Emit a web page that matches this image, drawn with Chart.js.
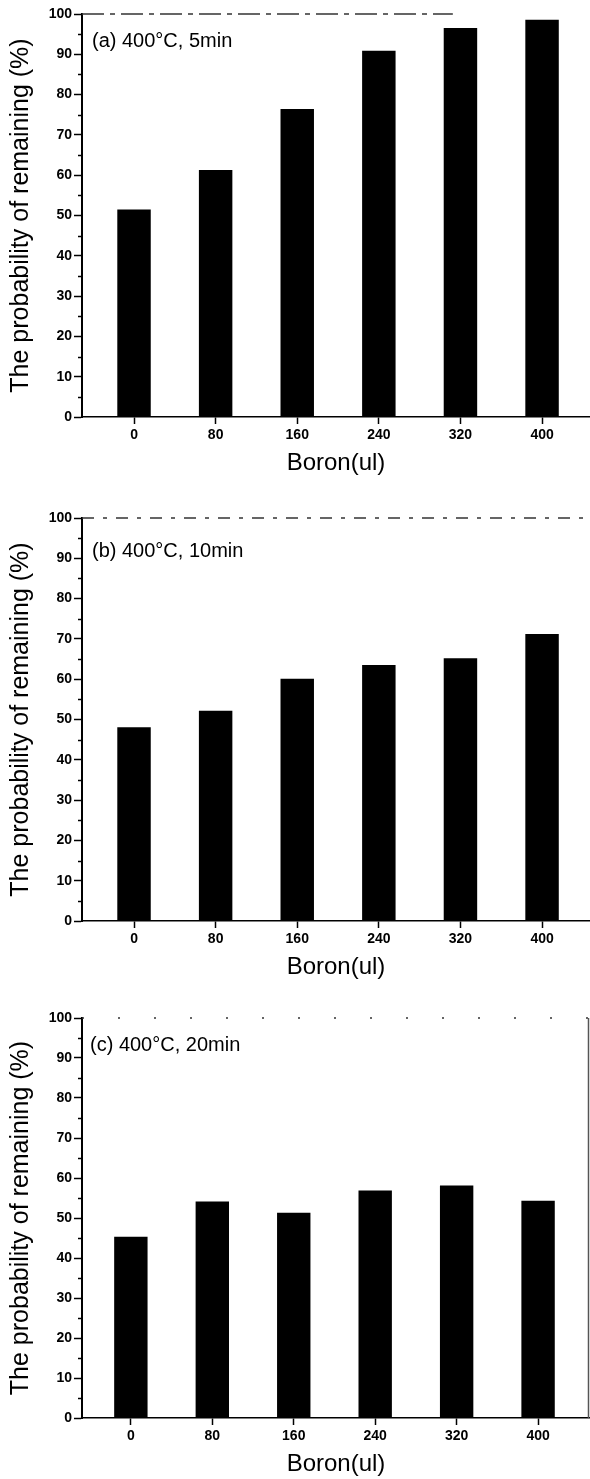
<!DOCTYPE html>
<html><head><meta charset="utf-8">
<script src="https://cdn.jsdelivr.net/npm/chart.js@4.4.1/dist/chart.umd.min.js"></script>
<style>
html,body{margin:0;padding:0;background:#fff;}
body{width:590px;height:1479px;position:relative;overflow:hidden;}
canvas{position:absolute;left:0;display:block;}
</style></head><body>
<canvas id="ca" width="590" height="500" style="top:0px"></canvas>
<canvas id="cb" width="590" height="500" style="top:504px"></canvas>
<canvas id="cc" width="590" height="475" style="top:1004px"></canvas>
<script>
// ---- data ----
const boron = [0, 80, 160, 240, 320, 400];
const xTickLabels = ['0', '80', '160', '240', '320', '400'];
const yTickValues = [0, 10, 20, 30, 40, 50, 60, 70, 80, 90, 100];
const yMinorTicks = [5, 15, 25, 35, 45, 55, 65, 75, 85, 95];
const remaining5min = [51.5, 61.3, 76.4, 90.9, 96.5, 98.6];
const remaining10min = [48.1, 52.2, 60.1, 63.5, 65.2, 71.2];
const remaining20min = [45.3, 54.1, 51.3, 56.9, 58.1, 54.3];
const panelTitles = ['(a) 400\u00B0C, 5min', '(b) 400\u00B0C, 10min', '(c) 400\u00B0C, 20min'];
const xAxisTitle = 'Boron(ul)';
const yAxisTitle = 'The probability of remaining (%)';

Chart.defaults.font.family = '"Liberation Sans", Arial, Helvetica, sans-serif';
Chart.defaults.color = '#000';

const deco = {
  id: 'deco',
  afterDraw(chart, args, o) {
    const {ctx, chartArea: a, scales: {y}} = chart;
    ctx.save();
    ctx.strokeStyle = '#000';
    ctx.lineWidth = 1.5;
    yMinorTicks.forEach(v => {
      const py = Math.round(y.getPixelForValue(v)) + 0.5;
      ctx.beginPath(); ctx.moveTo(a.left - 4, py); ctx.lineTo(a.left, py); ctx.stroke();
    });
    const ty = y.getPixelForValue(100);
    ctx.setLineDash(o.dash);
    ctx.lineWidth = 1.3;
    ctx.strokeStyle = '#333';
    ctx.beginPath(); ctx.moveTo(a.left, ty); ctx.lineTo(a.left + (a.right - a.left) * o.topFrac, ty); ctx.stroke();
    ctx.setLineDash([]);
    if (o.rightBorder) {
      ctx.strokeStyle = '#555';
      ctx.lineWidth = 1.5;
      ctx.beginPath(); ctx.moveTo(a.right - 1.5, a.top); ctx.lineTo(a.right - 1.5, a.bottom); ctx.stroke();
    }
    ctx.font = '20px "Liberation Sans", Arial, sans-serif';
    ctx.fillStyle = '#000';
    ctx.textBaseline = 'middle';
    ctx.textAlign = 'left';
    ctx.fillText(o.title, a.left + o.titleDx, ty + o.titleDy);
    ctx.restore();
  }
};

function makePanel(id, values, title, plotH, canvasH, xH, xmin, xmax, dash, topFrac, rightBorder, titleDx, titleDy) {
  const padTop = 14;
  const padBottom = Math.max(0, canvasH - padTop - plotH - xH);
  new Chart(document.getElementById(id), {
    type: 'bar',
    data: {
      datasets: [{
        data: boron.map((b, i) => ({x: b, y: values[i]})),
        backgroundColor: '#000',
        borderWidth: 0,
        barPercentage: 0.41,
        categoryPercentage: 1.0
      }]
    },
    options: {
      responsive: false,
      animation: false,
      devicePixelRatio: 1,
      layout: {padding: {left: 6, top: padTop, right: 0, bottom: padBottom}},
      plugins: {
        legend: {display: false},
        tooltip: {enabled: false},
        deco: {title: title, dash: dash, topFrac: topFrac, rightBorder: rightBorder, titleDx: titleDx, titleDy: titleDy}
      },
      scales: {
        x: {
          type: 'linear',
          offset: false,
          min: xmin, max: xmax,
          afterBuildTicks: s => { s.ticks = boron.map(v => ({value: v})); },
          afterFit: s => { s.height = xH; },
          grid: {offset: false, drawOnChartArea: false, drawTicks: true, tickLength: 7, tickColor: '#000', tickWidth: 1.5},
          border: {display: true, color: '#000', width: 1.5},
          ticks: {
            autoSkip: false, maxRotation: 0, padding: 3, color: '#000',
            font: {size: 14, weight: 'bold'},
            callback: (v, i) => xTickLabels[i]
          },
          title: {display: true, text: xAxisTitle, color: '#000', font: {size: 24}, padding: 0}
        },
        y: {
          type: 'linear',
          min: 0, max: 100,
          afterBuildTicks: s => { s.ticks = yTickValues.map(v => ({value: v})); },
          afterFit: s => { s.width = 76; },
          grid: {drawOnChartArea: false, drawTicks: true, tickLength: 8, tickColor: '#000', tickWidth: 1.5},
          border: {display: true, color: '#000', width: 2},
          ticks: {padding: 2, color: '#000', font: {size: 14, weight: 'bold'}, callback: v => String(v)},
          title: {display: true, text: yAxisTitle, color: '#000', font: {size: 25}, padding: 0}
        }
      }
    },
    plugins: [deco]
  });
}

makePanel('ca', remaining5min, panelTitles[0], 403, 500, 61, -51, 447, [22, 6, 5, 6], 0.73, false, 10, 27);
makePanel('cb', remaining10min, panelTitles[1], 403, 500, 61, -51, 447, [12, 9, 4, 9], 1.0, false, 10, 33);
makePanel('cc', remaining20min, panelTitles[2], 400, 475, 61, -48, 451, [2, 34], 1.0, true, 8, 27);
</script>
</body></html>
